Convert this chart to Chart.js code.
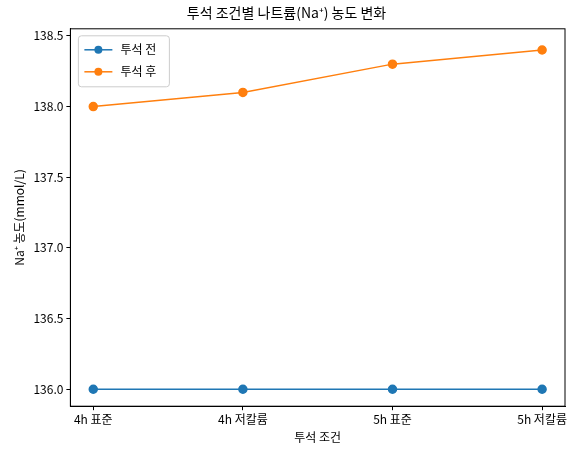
<!DOCTYPE html>
<html><head><meta charset="utf-8">
<script src="https://cdn.jsdelivr.net/npm/chart.js@4/dist/chart.umd.min.js"></script>
<style>body{margin:0;background:#fff}#w{width:587px;height:455px}</style>
</head><body><div id="w"><canvas id="c"></canvas></div>
<script>
const categories = ["4h 표준", "4h 저칼륨", "5h 표준", "5h 저칼륨"];
const before = [136.0, 136.0, 136.0, 136.0];
const after = [138.0, 138.1, 138.3, 138.4];
const yTicks = [136.0, 136.5, 137.0, 137.5, 138.0, 138.5];
const F = "'Noto Sans CJK KR','Noto Sans',sans-serif";
Chart.defaults.font.family = F;
Chart.defaults.color = '#000';
const pts = a => a.map((v,i)=>({x:i,y:v}));
const gridOpt = {drawOnChartArea:false,drawTicks:true,tickLength:4,color:'#000'};
new Chart(document.getElementById('c'), {
  type: 'line',
  data: { datasets: [
    {label:'투석 전', data:pts(before), borderColor:'#1f77b4', backgroundColor:'#1f77b4', pointRadius:4, borderWidth:1.5},
    {label:'투석 후', data:pts(after), borderColor:'#ff7f0e', backgroundColor:'#ff7f0e', pointRadius:4, borderWidth:1.5}
  ]},
  options: {
    animation:false, responsive:true, maintainAspectRatio:false,
    layout:{padding:{top:0,right:22,bottom:6,left:8}},
    plugins:{
      title:{display:true,text:'투석 조건별 나트륨(Na⁺) 농도 변화',font:{size:14,weight:'normal'},padding:{top:4,bottom:8}},
      legend:{display:false}
    },
    scales:{
      x:{type:'linear',min:-0.153,max:3.153,grid:gridOpt,border:{color:'#000'},
        afterBuildTicks:ax=>{ax.ticks=categories.map((_,i)=>({value:i}));},
        ticks:{callback:v=>categories[v],font:{size:12},maxRotation:0,autoSkip:false,padding:2},
        title:{display:true,text:'투석 조건',font:{size:12},padding:{top:2}}},
      y:{min:135.88,max:138.55,grid:gridOpt,border:{color:'#000'},
        afterBuildTicks:ax=>{ax.ticks=yTicks.map(v=>({value:v}));},
        ticks:{callback:v=>v.toFixed(1),font:{size:12},padding:3},
        title:{display:true,text:'Na⁺ 농도(mmol/L)',font:{size:12}}}
    }
  },
  plugins:[{id:'leg',afterDraw(ch){
    const c=ch.ctx,a=ch.chartArea,x=a.left+8,y=a.top+7;
    c.save();c.strokeStyle='#000';c.lineWidth=1;
    c.strokeRect(a.left,a.top,a.right-a.left,a.bottom-a.top);
    c.fillStyle='#fff';c.strokeStyle='#ccc';
    c.beginPath();c.roundRect(x,y,91,51,3);c.fill();c.stroke();
    [['투석 전','#1f77b4'],['투석 후','#ff7f0e']].forEach((d,i)=>{
      const yy=y+14+i*22;c.strokeStyle=d[1];c.lineWidth=1.5;
      c.beginPath();c.moveTo(x+6,yy);c.lineTo(x+34,yy);c.stroke();
      c.fillStyle=d[1];c.beginPath();c.arc(x+20,yy,4,0,7);c.fill();
      c.fillStyle='#000';c.font='12px '+F;c.textBaseline='middle';c.fillText(d[0],x+42,yy);
    });c.restore();
  }}]
});
</script></body></html>
